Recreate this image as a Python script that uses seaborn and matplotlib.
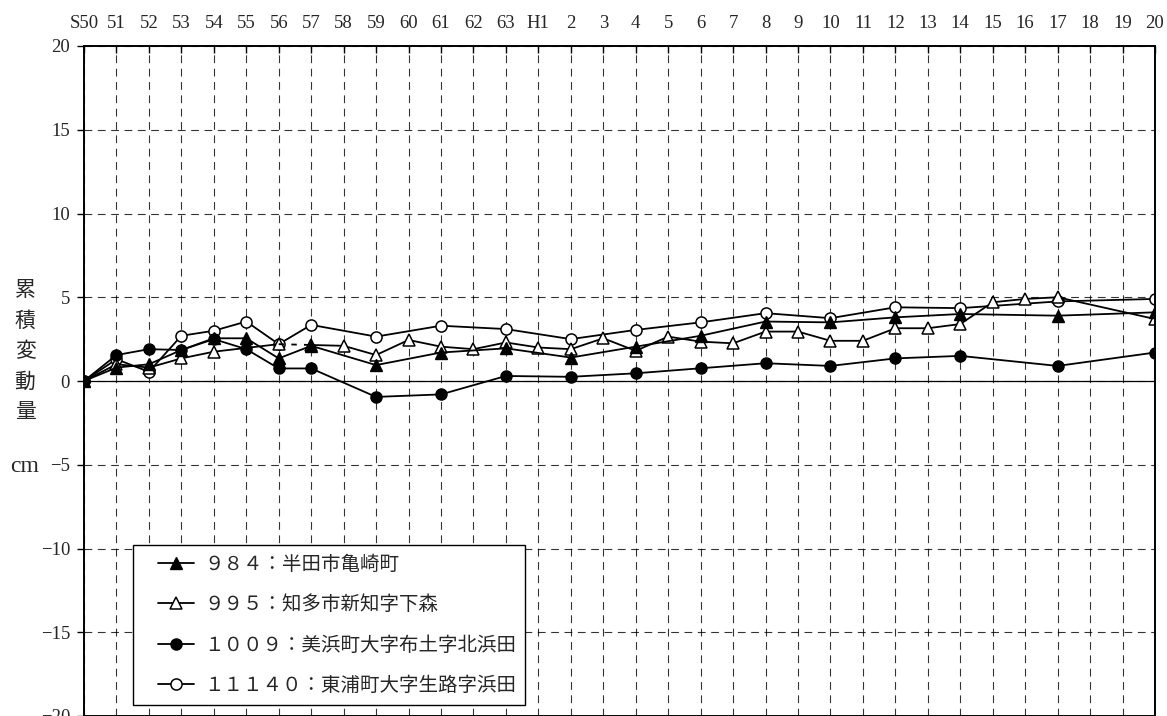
import numpy as np
import pandas as pd
import matplotlib
matplotlib.use("Agg")
import matplotlib.pyplot as plt
from matplotlib.lines import Line2D
from matplotlib.legend_handler import HandlerLine2D
import seaborn as sns

# survey years (Showa 50 .. Heisei 20)
years = ['S50', '51', '52', '53', '54', '55', '56', '57', '58', '59', '60', '61', '62', '63',
         'H1', '2', '3', '4', '5', '6', '7', '8', '9', '10', '11', '12', '13', '14', '15',
         '16', '17', '18', '19', '20']

N = None
bm984 = [0, 0.8, 1.0, 1.85, 2.55, 2.55, 1.35, 2.1, N, 0.95, N, 1.7, N, 1.95, N, 1.4, N,
         2.05, N, 2.7, N, 3.55, N, 3.5, N, 3.8, N, 4.0, N, N, 3.9, N, N, 4.1]
bm995 = [0, 1.0, 0.8, 1.35, 1.75, N, 2.2, 2.15, 2.1, 1.55, 2.45, 2.05, 1.9, 2.3, 2.0, 1.9,
         2.55, 1.8, 2.65, 2.35, 2.25, 2.95, 2.95, 2.4, 2.4, 3.15, 3.15, 3.4, 4.7, 4.9, 5.0,
         N, N, 3.7]
bm1009 = [0, 1.55, 1.9, 1.85, 2.5, 1.9, 0.75, 0.75, N, -0.95, N, -0.8, N, 0.3, N, 0.25, N,
          0.46, N, 0.76, N, 1.06, N, 0.9, N, 1.35, N, 1.5, N, N, 0.9, N, N, 1.7]
bm11140 = [0, 1.3, 0.55, 2.7, 3.0, 3.55, 2.2, 3.35, N, 2.65, N, 3.3, N, 3.1, N, 2.5, N,
           3.05, N, 3.5, N, 4.05, N, 3.75, N, 4.4, N, 4.35, N, N, 4.75, N, N, 4.9]

names = ['９８４：半田市亀崎町', '９９５：知多市新知字下森',
         '１００９：美浜町大字布土字北浜田', '１１１４０：東浦町大字生路字浜田']

sns.set_style("white")
plt.rcParams['font.family'] = ['Liberation Serif', 'Noto Sans CJK JP', 'DejaVu Sans']

fig = plt.figure(figsize=(11.67, 7.16), dpi=100)
ax = fig.add_axes([84 / 1167, 0, (1155 - 84) / 1167, (716 - 46) / 716])

pos = np.arange(len(years))


def series(vals):
    df = pd.DataFrame({'x': pos, 'y': pd.array(vals, dtype='float')})
    return df.dropna()


lw = 1.3
ms = 8
open_kw = dict(color='black', markerfacecolor='white', markeredgecolor='black',
               markeredgewidth=1.1, markersize=ms, linewidth=lw)
fill_kw = dict(color='black', markerfacecolor='black', markeredgecolor='black',
               markeredgewidth=1.0, markersize=ms, linewidth=lw)

# 11140 open circles
sns.lineplot(data=series(bm11140), x='x', y='y', marker='o', errorbar=None, ax=ax, **open_kw)

# 995 open triangles, dashed link between 56 and 57
d995 = series(bm995)
sns.lineplot(data=d995[d995.x <= 6], x='x', y='y', marker='^', errorbar=None, ax=ax, **open_kw)
sns.lineplot(data=d995[(d995.x >= 6) & (d995.x <= 7)], x='x', y='y', errorbar=None, ax=ax,
             color='black', linewidth=lw, linestyle=(0, (3, 4)))
sns.lineplot(data=d995[d995.x >= 7], x='x', y='y', marker='^', errorbar=None, ax=ax, **open_kw)

# 1009 filled circles
sns.lineplot(data=series(bm1009), x='x', y='y', marker='o', errorbar=None, ax=ax, **fill_kw)
# 984 filled triangles
sns.lineplot(data=series(bm984), x='x', y='y', marker='^', errorbar=None, ax=ax, **fill_kw)

ax.axhline(0, color='black', linewidth=0.9, zorder=1)

ax.set_xlim(0, 33)
ax.set_ylim(-20, 20)
ax.set_xticks(pos)
ax.set_xticklabels(years)
ax.set_yticks(np.arange(-20, 21, 5))
ax.set_yticklabels([str(v).replace('-', '\u2212') for v in range(-20, 21, 5)])
ax.xaxis.tick_top()
ax.tick_params(axis='x', direction='in', length=5, width=1, labelsize=13.5, pad=10, color='black')
ax.tick_params(axis='y', direction='out', length=5, width=1, labelsize=13.5, pad=5, color='black',
               left=True)
ax.grid(True, color='black', linestyle=(0, (7, 5)), linewidth=0.8, alpha=0.8)
ax.set_xlabel('')
ax.set_ylabel('')
for side in ['top', 'right', 'left', 'bottom']:
    ax.spines[side].set_visible(True)
    ax.spines[side].set_color('black')
    ax.spines[side].set_linewidth(1.4)

handles = [
    Line2D([], [], marker='^', **fill_kw),
    Line2D([], [], marker='^', **open_kw),
    Line2D([], [], marker='o', **fill_kw),
    Line2D([], [], marker='o', **open_kw),
]
leg = ax.legend(handles, names, loc='upper left', bbox_to_anchor=((133 - 84) / 1071, (716 - 545) / 670),
                frameon=True, fancybox=False, framealpha=1, edgecolor='black',
                prop={'family': ['Noto Sans CJK JP'], 'size': 14}, handlelength=2.7,
                handletextpad=0.5, labelspacing=1.0, borderpad=0.45, borderaxespad=0,
                handler_map={Line2D: HandlerLine2D(xpad=0.85)})
leg.get_frame().set_linewidth(1.0)

fig.text(25 / 1167, 1 - 351 / 716, '累\n積\n変\n動\n量', ha='center', va='center',
         fontsize=15, linespacing=1.5, family=['Noto Sans CJK JP'])
fig.text(25 / 1167, 1 - 467 / 716, 'cm', ha='center', va='center', fontsize=17,
         family=['Liberation Serif'])

fig.savefig('out.png', dpi=100)
